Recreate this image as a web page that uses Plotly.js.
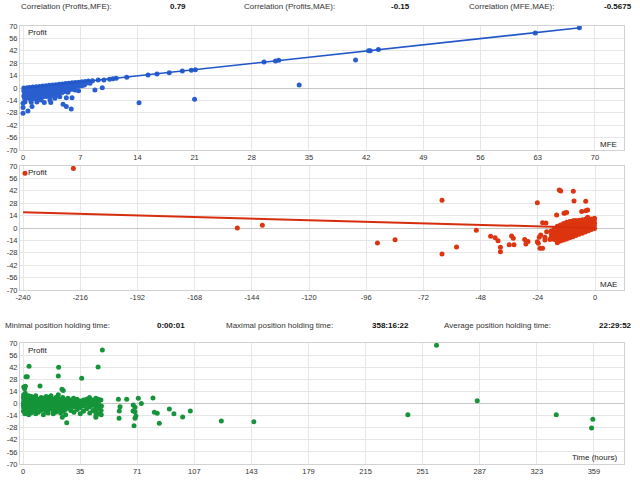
<!DOCTYPE html>
<html>
<head>
<meta charset="utf-8">
<script src="https://cdn.plot.ly/plotly-3.0.1.min.js"></script>
<style>
  html, body { margin: 0; padding: 0; background: #fff; }
  #chart { width: 640px; height: 480px; }
</style>
</head>
<body>
<div id="chart"></div>
<script>
"use strict";

// tick labels (hyphen minus, like the terminal report)
const profitTicks = [-70, -56, -42, -28, -14, 0, 14, 28, 42, 56, 70];
const mfeTicks = [0, 7, 14, 21, 28, 35, 42, 49, 56, 63, 70];
const maeTicks = [-240, -216, -192, -168, -144, -120, -96, -72, -48, -24, 0];
const holdTickVals = [0, 35.9, 71.8, 107.7, 143.6, 179.5, 215.4, 251.3, 287.2, 323.1, 359];
const holdTickText = ["0", "35", "71", "107", "143", "179", "215", "251", "287", "323", "359"];

// header values
const corrLabels = ["Correlation (Profits,MFE):", "Correlation (Profits,MAE):", "Correlation (MFE,MAE):"];
const corrValues = ["0.79", "-0.15", "-0.5675"];
const holdLabels = ["Minimal position holding time:", "Maximal position holding time:", "Average position holding time:"];
const holdValues = ["0:00:01", "358:16:22", "22:29:52"];

// profit vs MFE  [mfe, profit]
const mfePoints = [
  [0.1, 0], [0.1, -3], [0.2, -6], [0.1, -9], [0.2, -12],
  [0.5, 0.3], [0.4, -2], [0.5, -5], [0.4, -8], [0.5, -11],
  [0.8, 0.6], [0.9, -1.5], [0.8, -4], [0.9, -7], [0.8, -10], [0.9, -13],
  [1.2, 1], [1.3, -1], [1.2, -3.5], [1.3, -6.5], [1.2, -9.5], [1.3, -12],
  [1.6, 1.4], [1.7, -0.5], [1.6, -3], [1.7, -6], [1.6, -9], [1.7, -11.5],
  [2.0, 1.8], [2.1, 0], [2.0, -2.5], [2.1, -5], [2.0, -8], [2.1, -11],
  [2.4, 2.2], [2.5, 0], [2.4, -2], [2.5, -4.5], [2.4, -7.5], [2.5, -10],
  [2.8, 2.6], [2.9, 0.5], [2.8, -2], [2.9, -4.5], [2.8, -7], [2.9, -9.5],
  [3.2, 3], [3.3, 0.5], [3.2, -2], [3.3, -4.5], [3.2, -7], [3.3, -9],
  [3.6, 3.4], [3.7, 1], [3.6, -1.5], [3.7, -4], [3.6, -6.5], [3.7, -8.5],
  [4.0, 3.8], [4.1, 1.5], [4.0, -1], [4.1, -3.5], [4.0, -6], [4.1, -8],
  [4.4, 4.2], [4.5, 1.5], [4.4, -1], [4.5, -3.5], [4.4, -6],
  [4.8, 4.6], [4.9, 2], [4.8, -0.5], [4.9, -3], [4.8, -5],
  [5.2, 5], [5.3, 2.5], [5.2, 0], [5.3, -2.5], [5.2, -4],
  [5.6, 5.4], [5.7, 3], [5.6, 0.5], [5.7, -2],
  [6.0, 5.8], [6.1, 3.5], [6.0, 1], [6.1, -1.5],
  [6.4, 6.2], [6.5, 4], [6.4, 1.5],
  [6.8, 6.6], [6.9, 4.5], [6.8, 2],
  [7.2, 7], [7.3, 5], [7.2, 2.5], [7.5, 3.5],
  [7.6, 7.4], [7.7, 5.5], [8.2, 5.5],
  [8.0, 7.8], [8.5, 8.3], [9.2, 9.0],
  [0, -28.6], [0, -22], [0, -17.3], [0.25, -15.4], [0.6, -26], [1.1, -21], [1.0, -16],
  [1.7, -15.8], [2.2, -13.5], [2.6, -16.5], [3.4, -16.5], [3.3, -13.5], [3.9, -11.5], [4.5, -10],
  [4.9, -18.4], [5.3, -21], [5.9, -23.7], [5.3, -11], [6.0, -11], [5.5, -4.9], [6.4, -2.2],
  [6.8, -3], [8.8, -2.2], [9.7, 0.3], [14.2, -16.6], [21.0, -12.8], [33.8, 3.4], [40.7, 31.6],
  [9.9, 9], [10.6, 10], [11.0, 10.5], [11.4, 11], [12.7, 12], [15.3, 14.7], [16.4, 15.8],
  [17.9, 17.3], [19.5, 19.2], [20.6, 20], [21.1, 20.7], [29.5, 29.4], [30.9, 30.5], [31.3, 31.2],
  [42.3, 42.1], [42.5, 42.1], [43.5, 43.5], [62.7, 62.1], [68.1, 68]
];
const mfeFitX = [0, 68.2];
const mfeFitY = [-0.3, 68.0];

// profit vs MAE  [mae, profit]
const maePoints = [
  [-0.2, -0.5], [-0.3, 2.5], [-0.2, 5.5], [-0.3, 8.5], [-0.2, 11],
  [-1.5, -1.8], [-1.4, 1.2], [-1.5, 4.2], [-1.4, 7.2], [-1.5, 10.2],
  [-2.8, -3], [-2.7, 0], [-2.8, 3], [-2.7, 6], [-2.8, 9.5],
  [-4.1, -4.5], [-4.0, -1.5], [-4.1, 1.5], [-4.0, 4.5], [-4.1, 7.5], [-4.0, 10],
  [-5.4, -5.8], [-5.3, -2.8], [-5.4, 0.2], [-5.3, 3.2], [-5.4, 6.2], [-5.3, 9.3],
  [-6.7, -7], [-6.6, -4], [-6.7, -1], [-6.6, 2], [-6.7, 5], [-6.6, 8.8],
  [-8.0, -8.5], [-7.9, -5.5], [-8.0, -2.5], [-7.9, 0.5], [-8.0, 3.5], [-7.9, 6.5], [-8.0, 8.5],
  [-9.3, -9.8], [-9.2, -6.8], [-9.3, -3.8], [-9.2, -0.8], [-9.3, 2.2], [-9.2, 5.2], [-9.3, 8],
  [-10.6, -11], [-10.5, -8], [-10.6, -5], [-10.5, -2], [-10.6, 1], [-10.5, 4], [-10.6, 7.3],
  [-11.9, -12.3], [-11.8, -9.3], [-11.9, -6.3], [-11.8, -3.3], [-11.9, -0.3], [-11.8, 2.7], [-11.9, 6.5],
  [-13.2, -13.5], [-13.1, -10.5], [-13.2, -7.5], [-13.1, -4.5], [-13.2, -1.5], [-13.1, 1.5], [-13.2, 5],
  [-14.5, -14.8], [-14.4, -11.8], [-14.5, -8.8], [-14.4, -5.8], [-14.5, -2.8], [-14.4, 0.5], [-14.5, 3.5],
  [-15.8, -15.5], [-15.7, -12.5], [-15.8, -9.5], [-15.7, -6.5], [-15.8, -3.5], [-15.7, 0], [-15.8, 2],
  [-17.1, -13], [-17.0, -10], [-17.1, -7], [-17.0, -4], [-17.1, -1],
  [-18.4, -11], [-18.3, -7], [-18.4, -3.5],
  [-20.6, 5.6], [-22, 6], [-22.8, -7.9], [-21, -10.5], [-21, -13.5], [-20.3, -4.2], [-18.9, -13],
  [-17.5, -10], [-16.1, 14.7], [-15.8, -16.6], [-15, 42.9], [-14.4, 41.7], [-13, 16.6],
  [-12.6, 16.8], [-11.9, 17.4], [-10.4, 7.1], [-9, 8.2], [-9.1, 41.5], [-8.8, 30.6],
  [-3.9, 30.2], [-5.6, 18.5], [-3.9, 19.5], [-3.1, 20.3], [-3.1, 12],
  [-24.2, 28.6], [-24.2, -15.5], [-23.8, -17.3], [-23.4, -10.5], [-23.1, -23], [-22, -23],
  [-29.5, -13], [-29, -18], [-28.1, -15.3], [-36, -19], [-35, -9], [-34.3, -11.6], [-34, -19],
  [-39.7, -21.8], [-39.7, -26.8], [-40.7, -14.3], [-41.9, -11], [-43.8, -9.4], [-49.8, -2.6],
  [-58.1, -21.5], [-64.2, 31.4], [-64.2, -29.4], [-83.9, -13.2], [-91.3, -17],
  [-139.6, 3], [-150.1, 0], [-218.9, 67.3], [-239.2, 61.7]
];
const maeFitX = [-240, 0];
const maeFitY = [17.7, 0];

// profit vs holding time  [hours, profit]
const holdPoints = [
  [0.3, -9], [0.4, -5], [0.2, -2], [0.3, 1], [0.5, 4], [0.3, 7], [0.4, 10],
  [1.2, -12], [1.1, -7], [1.3, -3], [1.2, 0], [1.0, 3], [1.3, 6], [1.1, 9], [1.4, 12],
  [2.4, -10], [2.3, -6], [2.5, -2], [2.4, 2], [2.2, 5], [2.6, 8],
  [3.6, -13], [3.5, -8], [3.7, -4], [3.6, 0], [3.4, 3], [3.8, 6], [3.6, 9],
  [5.0, -11], [4.9, -6], [5.1, -1], [5.0, 2], [4.8, 5], [5.2, 8],
  [6.5, -9], [6.4, -5], [6.6, -2], [6.5, 1], [6.3, 4], [6.7, 7],
  [8.0, -12], [7.9, -7], [8.1, -3], [8.0, 0], [7.8, 3], [8.2, 6], [8.0, 9],
  [9.6, -10], [9.5, -4], [9.7, -1], [9.6, 2], [9.4, 5],
  [11.2, -8], [11.1, -5], [11.3, -2], [11.2, 1], [11.0, 4], [11.4, 7],
  [12.8, -13], [12.7, -6], [12.9, -3], [12.8, 0], [12.6, 3], [13.0, 6],
  [14.3, -9], [14.2, -4], [14.4, -1], [14.3, 2], [14.1, 5], [14.5, 8],
  [15.8, -11], [15.7, -7], [15.9, -2], [15.8, 1], [15.6, 4], [16.0, 7],
  [17.4, -6], [17.3, -3], [17.5, 0], [17.4, 3], [17.2, 6], [17.6, 9],
  [19.0, -12], [18.9, -8], [19.1, -4], [19.0, -1], [18.8, 2], [19.2, 5],
  [20.5, -10], [20.4, -5], [20.6, -2], [20.5, 1], [20.3, 4], [20.7, 7],
  [22.0, -7], [21.9, -3], [22.1, 0], [22.0, 3], [21.8, 6], [22.2, 10],
  [23.6, -11], [23.5, -6], [23.7, -1], [23.6, 2], [23.4, 5],
  [25.2, -9], [25.1, -4], [25.3, 0], [25.2, 3], [25.0, 7],
  [26.8, -13], [26.7, -7], [26.9, -2], [26.8, 1], [26.6, 4],
  [28.4, -5], [28.3, -1], [28.5, 2], [28.2, 6],
  [30.0, -8], [29.9, -3], [30.1, 1], [30.0, 4],
  [32.0, -10], [31.9, -4], [32.1, 0], [32.0, 3], [31.8, 6],
  [34.0, -7], [33.9, -2], [34.1, 2], [34.0, 5],
  [36.0, -12], [35.9, -5], [36.1, -1], [36.0, 3],
  [38.0, -9], [37.9, -3], [38.1, 1], [38.0, 4],
  [40.0, -6], [39.9, -1], [40.1, 2], [40.0, 5],
  [42.0, -11], [41.9, -4], [42.1, 0], [42.0, 3], [41.8, 7],
  [44.0, -8], [43.9, -2], [44.1, 1], [44.0, 4],
  [45.8, -16], [45.9, -14], [45.7, -10], [45.8, -5], [45.9, -1], [45.7, 3], [45.8, 6],
  [47.5, -12], [47.4, -6], [47.6, -2], [47.5, 2], [47.3, 5],
  [49.2, -13], [49.1, -8], [49.3, -3], [49.0, 4],
  [0.5, 19], [1.0, 17], [1.5, 20], [1.9, 31], [2.7, 31], [3.8, 43], [10.7, 20.2],
  [22.4, 41.9], [22.2, 31.8], [24.5, 16.4], [25.3, 14.9], [27.5, -22.2], [24.7, -16],
  [36.9, 29.2], [47.2, 42.2], [49.9, 61.9], [60, 4.8], [65.2, 4.8], [72.5, 6], [74.4, 0],
  [81.7, 6.4], [61, -3.7], [60.5, -8.7], [60.4, -17.1], [69.2, -8.7], [70.4, -9.5],
  [69.3, -1.7], [70.4, -4.4], [71, -14.5], [70.4, -17.1], [69.8, -25.7], [82.6, -10.2],
  [84.4, -11.3], [85.7, -22.9], [92, -6.5], [94.9, -12], [100.4, -15.5], [105.2, -8.7],
  [124.7, -20.2], [145.2, -21], [242, -13], [260, 67.3], [285.6, 3.3], [335.3, -13],
  [358.3, -18.3], [357.5, -28.4]
];

const blue = "#2a5fcf";
const red = "#dc3510";
const green = "#15943a";
const FONT = "Liberation Sans, Arial, sans-serif";

function pts(list, color, xa, ya) {
  return {
    x: list.map((p) => p[0]),
    y: list.map((p) => p[1]),
    xaxis: xa,
    yaxis: ya,
    type: "scatter",
    mode: "markers",
    marker: { color, size: 5 },
    hoverinfo: "skip",
  };
}

function fit(xs, ys, color, width, xa, ya) {
  return {
    x: xs,
    y: ys,
    xaxis: xa,
    yaxis: ya,
    type: "scatter",
    mode: "lines",
    line: { color, width },
    hoverinfo: "skip",
  };
}

const data = [
  pts(mfePoints, blue, "x", "y"),
  fit(mfeFitX, mfeFitY, "#2056c8", 1.6, "x", "y"),
  pts(maePoints, red, "x2", "y2"),
  fit(maeFitX, maeFitY, "#d62e0c", 2, "x2", "y2"),
  pts(holdPoints, green, "x3", "y3"),
];

const axisBase = {
  showgrid: true,
  gridcolor: "#e6e6e6",
  gridwidth: 1,
  showline: true,
  linecolor: "#d2d2d2",
  linewidth: 1,
  mirror: true,
  ticks: "",
  tickfont: { family: FONT, size: 7.5, color: "#333" },
  fixedrange: true,
};

const xAxis = (extra) => Object.assign({}, axisBase, { zeroline: false }, extra);
const yAxis = (extra) =>
  Object.assign({}, axisBase, {
    zeroline: true,
    zerolinecolor: "#c6c6c6",
    zerolinewidth: 1,
    range: [-70, 70],
    tickmode: "array",
    tickvals: profitTicks,
    ticktext: profitTicks.map(String),
  }, extra);

const W = 640, H = 480;
const px = (v) => v / W;
const py = (v) => 1 - v / H;

function label(text, x, y, anchor, bold, color) {
  return {
    text: bold ? "<b>" + text + "</b>" : text,
    xref: "paper", yref: "paper",
    x: px(x), y: py(y),
    xanchor: anchor, yanchor: "middle",
    showarrow: false,
    font: { family: FONT, size: 8, color: color || "#333" },
  };
}

const annotations = [
  label(corrLabels[0], 19, 7, "left"),
  label(corrValues[0], 178, 7, "center", true, "#111"),
  label(corrLabels[1], 242, 7, "left"),
  label(corrValues[1], 400, 7, "center", true, "#111"),
  label(corrLabels[2], 467, 7, "left"),
  label(corrValues[2], 634, 7, "right", true, "#111"),
  label(holdLabels[0], 3, 325, "left"),
  label(holdValues[0], 171, 325, "center", true, "#111"),
  label(holdLabels[1], 224, 325, "left"),
  label(holdValues[1], 390, 325, "center", true, "#111"),
  label(holdLabels[2], 442, 325, "left"),
  label(holdValues[2], 634, 325, "right", true, "#111"),
  label("Profit", 26, 33, "left", false, "#222"),
  label("MFE", 619, 144, "right", false, "#222"),
  label("Profit", 26, 173, "left", false, "#222"),
  label("MAE", 619, 284, "right", false, "#222"),
  label("Profit", 26, 350, "left", false, "#222"),
  label("Time (hours)", 619, 457, "right", false, "#222"),
];

const layout = {
  width: W,
  height: H,
  margin: { l: 0, r: 0, t: 0, b: 0 },
  paper_bgcolor: "#ffffff",
  plot_bgcolor: "#ffffff",
  showlegend: false,
  font: { family: FONT, size: 7.5, color: "#333" },
  xaxis: xAxis({
    domain: [px(20), px(624)], anchor: "y", range: [-0.37, 73.56],
    tickmode: "array", tickvals: mfeTicks, ticktext: mfeTicks.map(String),
  }),
  yaxis: yAxis({ domain: [py(150), py(26)], anchor: "x" }),
  xaxis2: xAxis({
    domain: [px(20), px(624)], anchor: "y2", range: [-241.3, 12.17],
    tickmode: "array", tickvals: maeTicks, ticktext: maeTicks.map(String),
  }),
  yaxis2: yAxis({ domain: [py(290), py(166)], anchor: "x2" }),
  xaxis3: xAxis({
    domain: [px(20), px(624)], anchor: "y3", range: [-1.89, 377.9],
    tickmode: "array", tickvals: holdTickVals, ticktext: holdTickText,
  }),
  yaxis3: yAxis({ domain: [py(464), py(343)], anchor: "x3" }),
  annotations,
};

Plotly.newPlot("chart", data, layout, { displayModeBar: false, staticPlot: true });
</script>
</body>
</html>
